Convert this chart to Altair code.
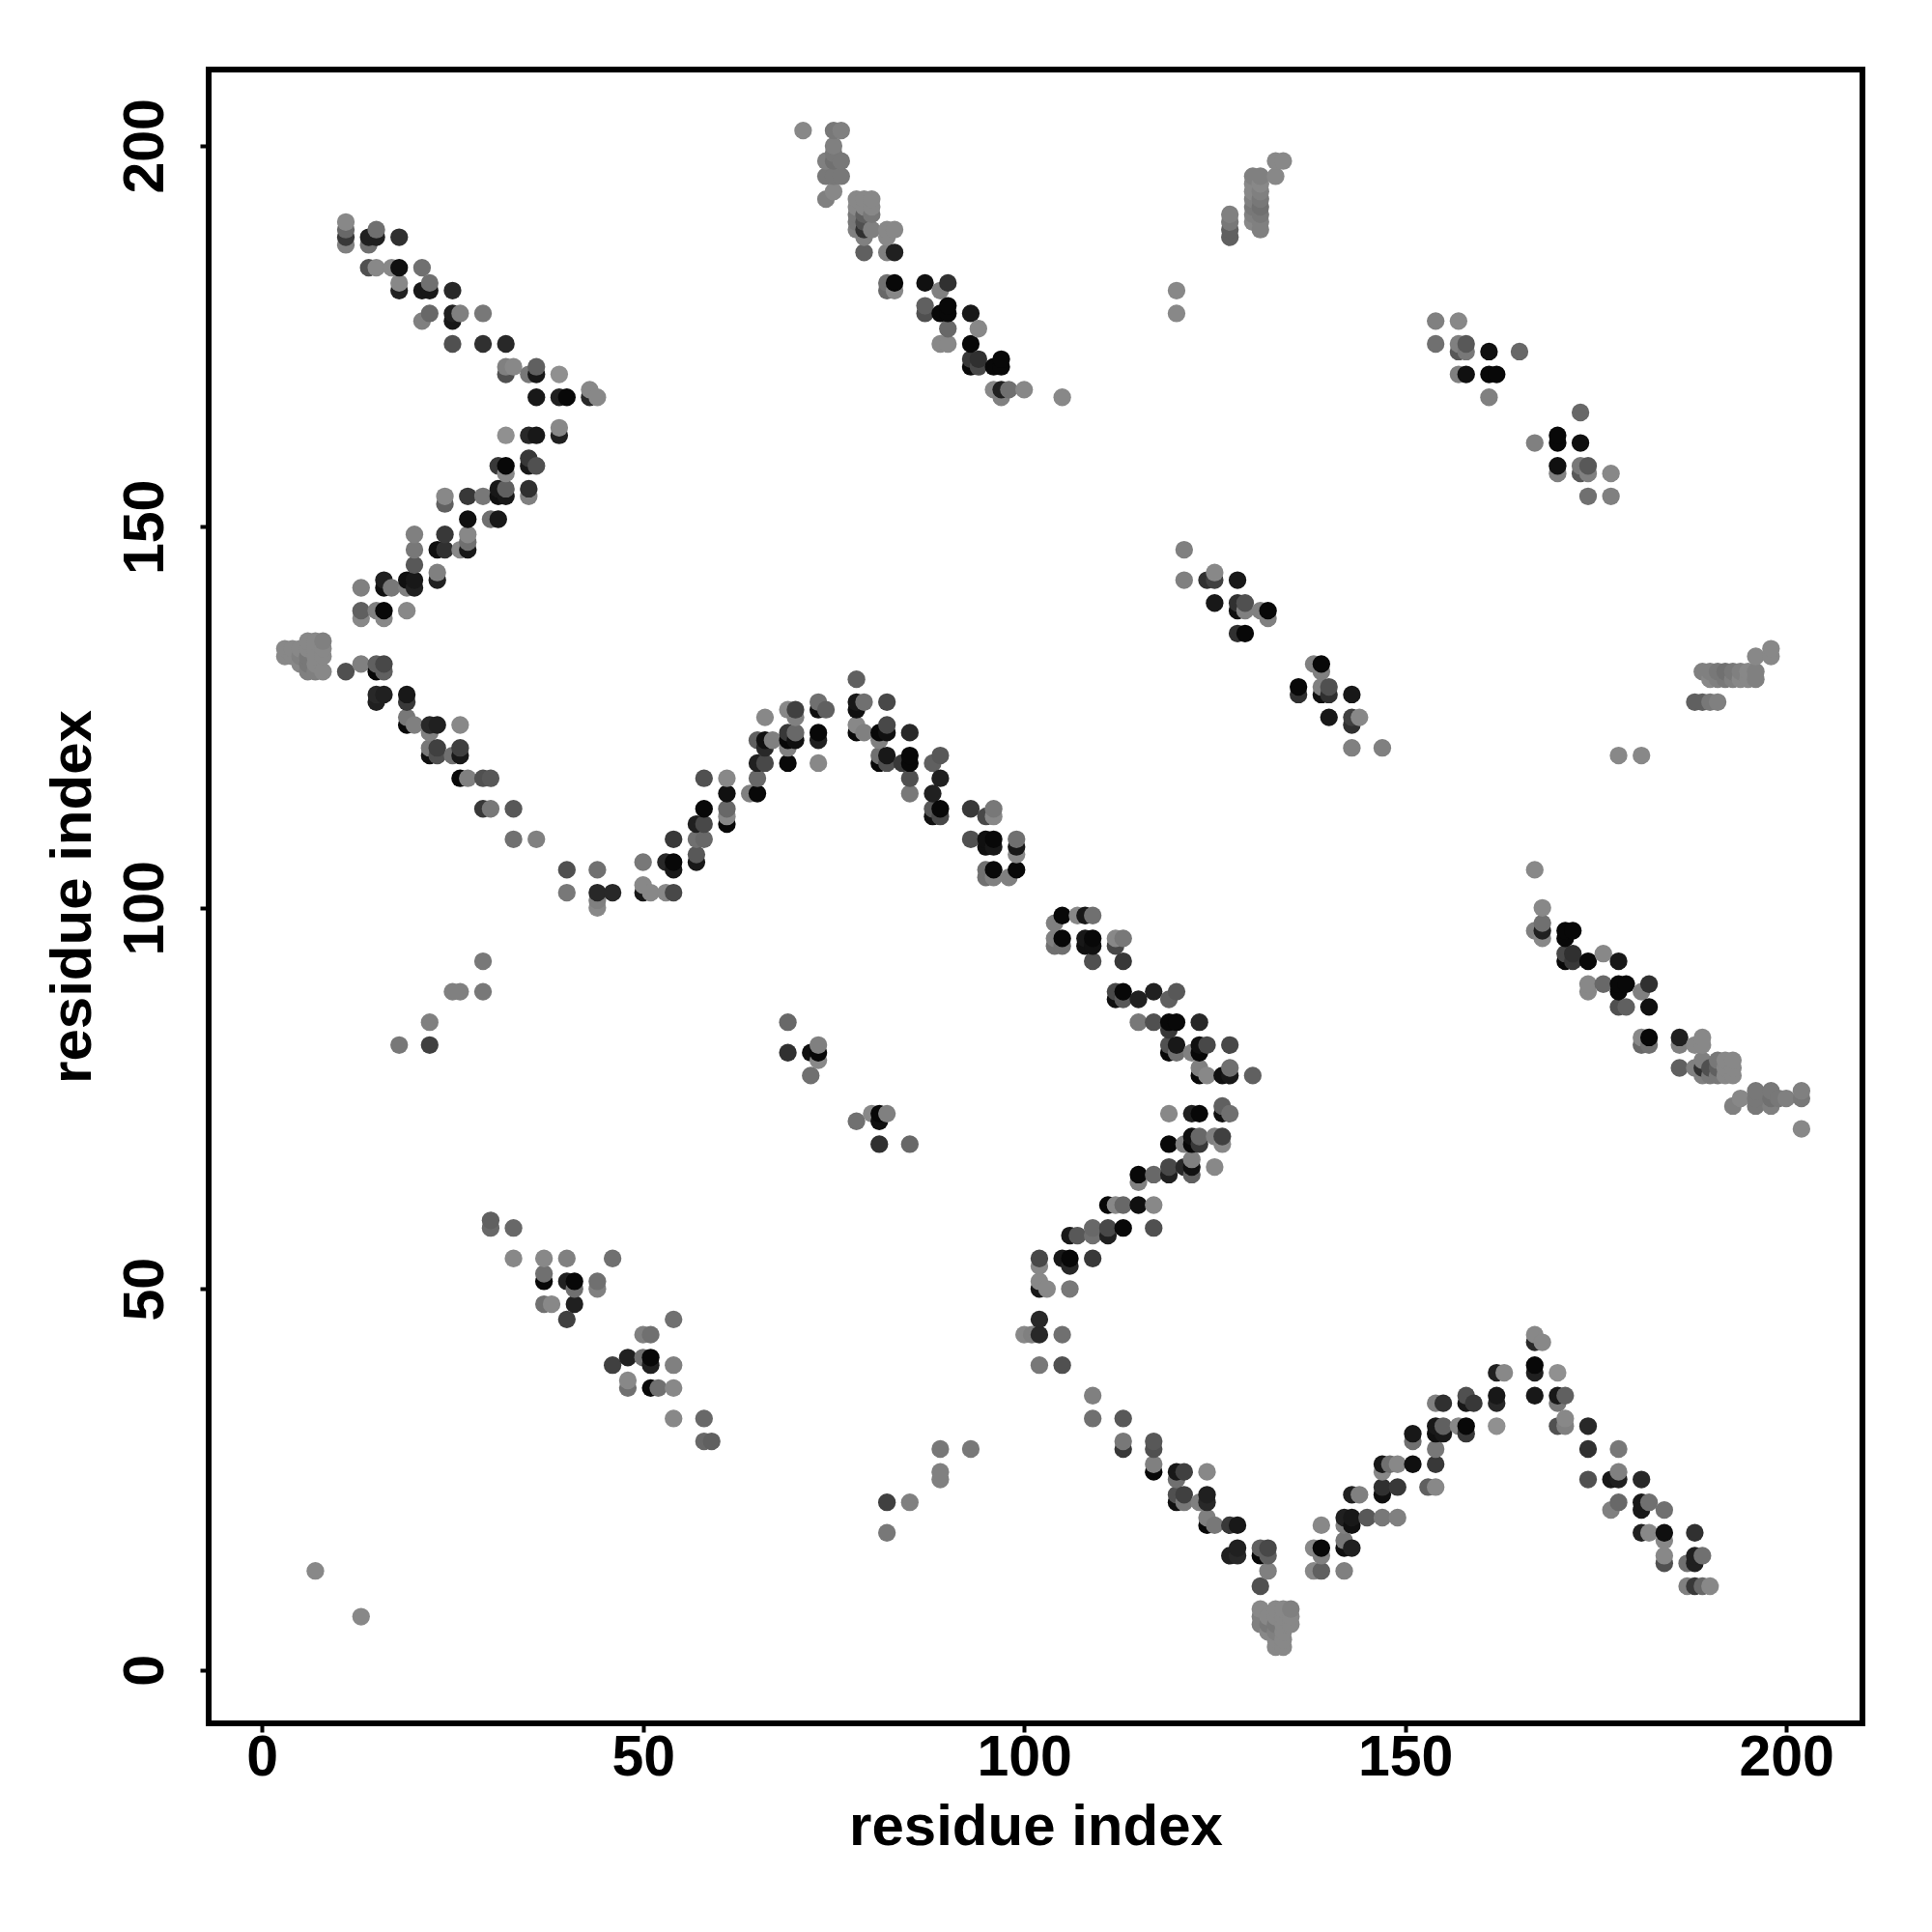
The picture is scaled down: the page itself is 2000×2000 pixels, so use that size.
import altair as alt
import pandas as pd

# Contact map is symmetric: each list holds the points below the diagonal (x, y, grey level).
band_low_left = [(100,44,0x88),(101,44,0x80),(102,44,0x28),(102,46,0x28),(105,44,0x70),(102,40,0x78),(105,40,0x50),
 (109,36,0x80),(109,33,0x70),(113,33,0x58),(113,30,0x78),(113,29,0x38),(117,30,0x58),(117,29,0x50),(117,27,0x80),
 (117,26,0x08),(120,26,0x18),(121,26,0x40),(120,25,0x70),(124,26,0x88),(120,23,0x50),(120,22,0x10),(121,23,0x40),
 (121,22,0x78),(123,22,0x80),(124,23,0x20),(124,22,0x28),(124,20,0x80),(124,19,0x08),(125,19,0x78),(127,19,0x38),
 (128,19,0x18),(128,16,0x20),(127,15,0x20),(128,15,0x28),(131,16,0x60),(132,16,0x48),(131,15,0x08),(132,15,0x60),
 (132,13,0x80),(131,11,0x50)]
corner_cluster = [(131,8,0x88),(131,7,0x80),(131,6,0x80),(132,7,0x88),(132,6,0x78),(132,5,0x88),(133,8,0x88),(133,7,0x88),
 (133,6,0x78),(133,5,0x80),(133,4,0x88),(133,3,0x88),(134,8,0x88),(134,7,0x88),(134,6,0x88),(134,5,0x88),(134,4,0x88),
 (134,3,0x88),(135,8,0x80),(135,7,0x88),(135,6,0x88)]
band_low_right = [(167,44,0x88),(168,43,0x88),(167,43,0x28),(167,40,0x08),(167,39,0x20),(162,39,0x20),(163,39,0x88),
 (170,39,0x90),(162,36,0x18),(162,35,0x28),(167,36,0x18),(170,36,0x18),(171,36,0x60),(170,35,0x78),(158,36,0x50),
 (158,35,0x18),(159,35,0x38),(154,35,0x80),(155,35,0x30),(162,32,0x90),(170,32,0x50),(171,32,0x80),(171,33,0x88),
 (174,32,0x28),(174,29,0x30),(178,29,0x78),(154,32,0x18),(155,32,0x60),(154,31,0x10),(155,31,0x18),(157,32,0x88),
 (158,32,0x08),(158,31,0x38),(151,31,0x18),(151,30,0x70),(154,29,0x78),(154,27,0x38),(151,27,0x10),(147,27,0x18),
 (148,27,0x70),(149,27,0x88),(147,26,0x88),(147,24,0x30),(147,23,0x10),(149,24,0x38),(153,24,0x60),(154,24,0x88),
 (143,23,0x20),(144,23,0x80),(142,20,0x20),(143,20,0x18),(143,19,0x10),(142,19,0x80),(145,20,0x58),(147,20,0x78),
 (149,20,0x80),(139,19,0x88),(139,16,0x08),(138,16,0x88),(139,15,0x80),(142,17,0x78),(142,16,0x10),(143,16,0x20),
 (138,13,0x88),(139,13,0x60),(142,13,0x80),(174,25,0x50),(177,25,0x18),(178,25,0x20),(178,26,0x80),(181,25,0x28),
 (178,22,0x68),(177,21,0x80),(181,22,0x18),(181,21,0x18),(182,22,0x70),(184,21,0x70),(181,18,0x20),(182,18,0x88),
 (184,18,0x10),(184,17,0x88),(188,18,0x30),(184,15,0x88),(184,14,0x50),(188,15,0x20),(189,15,0x70),(187,14,0x70),
 (188,14,0x20),(187,11,0x80),(188,11,0x38),(189,11,0x68),(190,11,0x88)]
band_mid_low = [(102,50,0x18),(102,51,0x88),(103,50,0x88),(106,50,0x78),(102,54,0x48),(102,53,0x88),(105,54,0x18),
 (106,54,0x08),(106,53,0x28),(109,54,0x38),(106,57,0x18),(107,57,0x58),(109,58,0x68),(109,57,0x70),(111,58,0x48),
 (111,57,0x20),(113,58,0x08),(117,58,0x50),(111,61,0x08),(112,61,0x88),(113,61,0x68),(115,61,0x10),(117,61,0x88),
 (115,65,0x08),(115,64,0x80),(117,65,0x68),(119,66,0x48),(119,65,0x20),(121,66,0x28),(122,67,0x80),(122,66,0x10),
 (122,65,0x60),(125,66,0x88),(119,69,0x08),(121,69,0x80),(122,70,0x10),(122,69,0x08),(123,70,0x68),(123,69,0x38),
 (125,70,0x80),(126,70,0x40),(126,69,0x88),(119,73,0x88),(122,73,0x20),(123,73,0x08),(126,74,0x60),(126,73,0x10),
 (127,73,0x70)]
band_mid_high = [(105,99,0x08),(104,98,0x80),(107,99,0x88),(108,99,0x18),(109,99,0x70),(104,96,0x80),(105,96,0x08),
 (104,95,0x70),(105,95,0x70),(108,96,0x18),(109,96,0x08),(108,95,0x10),(109,95,0x10),(112,96,0x88),(113,96,0x78),
 (112,95,0x48),(109,93,0x50),(113,93,0x38),(112,89,0x48),(113,89,0x08),(112,88,0x10),(113,88,0x58),(115,88,0x20),
 (117,89,0x20),(119,88,0x60),(120,89,0x58),(115,85,0x78),(117,85,0x50),(119,85,0x08),(120,85,0x08),(119,84,0x38),
 (123,85,0x28),(119,82,0x50),(120,82,0x18),(119,81,0x08),(120,81,0x70),(122,81,0x80),(123,82,0x10),(123,81,0x08),
 (124,82,0x48),(127,82,0x48),(123,79,0x80),(123,78,0x08),(124,78,0x88),(126,78,0x10),(127,78,0x18),(127,79,0x70),
 (130,78,0x60)]
band_right = [(167,105,0x88),(168,100,0x88),(168,98,0x70),(168,97,0x20),(167,97,0x80),(168,96,0x88),(171,97,0x08),
 (172,97,0x08),(171,96,0x08),(171,94,0x48),(172,94,0x30),(171,93,0x08),(172,93,0x38),(174,93,0x08),(176,94,0x88),
 (178,93,0x18),(174,90,0x88),(174,89,0x88),(176,90,0x68),(178,90,0x08),(179,90,0x08),(178,89,0x08),(181,89,0x80),
 (182,90,0x30),(178,87,0x50),(179,87,0x60),(182,87,0x10),(181,83,0x88),(182,83,0x08),(181,82,0x68),(182,82,0x70),
 (186,83,0x20),(186,82,0x80),(189,83,0x88),(188,82,0x88),(189,82,0x88),(186,79,0x60),(188,79,0x80),(189,80,0x80),
 (189,79,0x30),(189,78,0x80),(190,79,0x50),(190,78,0x78),(191,80,0x78),(191,79,0x60),(191,78,0x78),(192,80,0x88),
 (192,79,0x88),(192,78,0x88),(193,80,0x88),(193,79,0x88),(193,78,0x88),(193,74,0x80),(194,75,0x88),(196,76,0x78),
 (196,75,0x78),(196,74,0x78),(198,76,0x78),(198,75,0x70),(198,74,0x80),(199,75,0x78),(200,75,0x80),(202,76,0x80),
 (202,75,0x78),(202,71,0x88)]
cross_139 = [(138,132,0x80),(139,132,0x08),(139,131,0x80),(136,129,0x08),(136,128,0x30),(139,129,0x80),(140,129,0x50),
 (139,128,0x10),(140,128,0x30),(143,128,0x18),(140,125,0x18),(143,125,0x40),(144,125,0x88),(143,124,0x30),(143,121,0x80),
 (147,121,0x80)]
cross_170 = [(173,165,0x68),(167,161,0x80),(170,162,0x08),(170,161,0x08),(173,161,0x10),(170,158,0x10),(170,157,0x80),
 (173,158,0x78),(174,158,0x58),(173,157,0x58),(174,157,0x80),(177,157,0x88),(174,154,0x70),(177,154,0x80)]
cross_50 = [(46,40,0x40),(48,41,0x20),(48,38,0x88),(48,37,0x70),(50,44,0x80),(50,41,0x70),(51,44,0x70),(51,41,0x08),
 (51,40,0x20),(51,37,0x08),(52,37,0x70),(54,46,0x70),(54,40,0x80),(54,37,0x88),(54,33,0x88),(58,33,0x68),(58,30,0x68),
 (59,30,0x60)]
cross_78 = [(78,72,0x70),(80,73,0x88),(81,73,0x08),(81,72,0x10),(82,73,0x80),(81,69,0x30),(85,69,0x68)]
far_upper = [(178,120,0x88),(181,120,0x88),(198,134,0x88),(196,133,0x88),(198,133,0x88),(189,131,0x80),(190,131,0x80),
 (191,131,0x78),(192,131,0x70),(193,131,0x78),(194,131,0x80),(195,131,0x88),(196,131,0x80),(190,130,0x88),(191,130,0x80),
 (192,130,0x78),(193,130,0x80),(194,130,0x88),(195,130,0x88),(196,130,0x80),(188,127,0x60),(189,127,0x60),(190,127,0x78),
 (191,127,0x80)]
isolated = [(82,22,0x40),(82,18,0x78),(85,22,0x80),(89,29,0x78),(89,26,0x80),(89,25,0x80),(93,29,0x78),(13,7,0x88)]

groups = [band_low_left, corner_cluster, band_low_right, band_mid_low, band_mid_high, band_right,
          cross_139, cross_170, cross_50, cross_78, far_upper, isolated]
tick_values = [0, 50, 100, 150, 200]
axis_title = "residue index"

rows = []
for group in groups:
    for x, y, g in group:
        colour = f"#{g:02x}{g:02x}{g:02x}"
        rows.append((x, y, colour))
        rows.append((y, x, colour))
df = pd.DataFrame(rows, columns=["x", "y", "c"]).sort_values(["x", "y"])

FONT = "Liberation Sans"

def axis(**kw):
    return alt.Axis(values=tick_values, title=axis_title, grid=False, domain=False,
                    tickColor="black", tickWidth=4, tickSize=9,
                    labelFont=FONT, labelFontSize=59, labelFontWeight="bold", labelColor="black",
                    titleFont=FONT, titleFontSize=60, titleFontWeight="bold", titleColor="black", **kw)

chart = alt.Chart(df).mark_circle(size=335, opacity=1).encode(
    x=alt.X("x:Q", scale=alt.Scale(domain=[-7, 210], nice=False, zero=False),
            axis=axis(labelPadding=-3, titlePadding=13, labelFlush=False)),
    y=alt.Y("y:Q", scale=alt.Scale(domain=[-7, 210], nice=False, zero=False),
            axis=axis(labelAngle=-90, labelPadding=27, titlePadding=15, labelFlush=False)),
    color=alt.Color("c:N", scale=None),
).properties(
    width=1712, height=1712,
    autosize=alt.AutoSizeParams(type="none"),
    padding={"left": 208, "top": 64, "right": 60, "bottom": 200},
    background="white",
).configure_view(stroke="black", strokeWidth=6)

chart.save("out.html", embed_options={"renderer": "svg", "actions": False})
